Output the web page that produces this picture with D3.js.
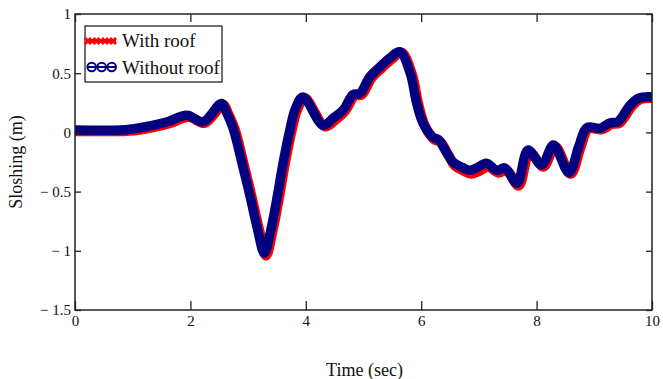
<!DOCTYPE html>
<html>
<head>
<meta charset="utf-8">
<script src="https://cdn.jsdelivr.net/npm/d3@7"></script>
<style>
  body { margin: 0; background: #fff; }
  svg { font-family: "Liberation Serif", "Times New Roman", serif; }
</style>
</head>
<body>
<svg id="chart" width="663" height="379"></svg>
<script>
// time (s) and sloshing (m)
var timeNoRoof = [0, 0.8, 1.0, 1.3, 1.6, 1.94, 2.22, 2.54, 2.62, 2.74, 2.89, 3.03, 3.16, 3.28, 3.40, 3.51, 3.61, 3.73, 3.82, 3.95, 4.3, 4.47, 4.65, 4.82, 4.94, 5.11, 5.29, 5.46, 5.63, 5.81, 5.92, 6.03, 6.2, 6.3, 6.44, 6.55, 6.73, 6.84, 6.96, 7.13, 7.31, 7.45, 7.66, 7.85, 8.09, 8.29, 8.56, 8.73, 8.87, 9.1, 9.27, 9.41, 9.62, 9.77, 10];
var slosNoRoof = [0.02, 0.02, 0.03, 0.055, 0.09, 0.145, 0.09, 0.245, 0.175, 0.035, -0.25, -0.53, -0.81, -1.02, -0.81, -0.53, -0.25, 0.035, 0.2, 0.30, 0.06, 0.12, 0.19, 0.32, 0.33, 0.47, 0.555, 0.63, 0.68, 0.50, 0.25, 0.08, -0.04, -0.06, -0.17, -0.25, -0.30, -0.32, -0.30, -0.26, -0.32, -0.30, -0.43, -0.15, -0.275, -0.107, -0.34, -0.12, 0.04, 0.035, 0.08, 0.09, 0.23, 0.29, 0.30];

var timeRoof = [0, 0.8, 1.03, 1.33, 1.63, 1.97, 2.25, 2.57, 2.65, 2.77, 2.92, 3.06, 3.19, 3.31, 3.43, 3.54, 3.64, 3.76, 3.85, 3.98, 4.33, 4.5, 4.68, 4.85, 4.97, 5.14, 5.32, 5.49, 5.66, 5.84, 5.95, 6.06, 6.23, 6.33, 6.47, 6.58, 6.76, 6.87, 6.99, 7.16, 7.34, 7.48, 7.69, 7.88, 8.12, 8.32, 8.59, 8.76, 8.9, 9.13, 9.3, 9.44, 9.65, 9.8, 10];
var slosRoof = [0.01, 0.01, 0.015, 0.04, 0.075, 0.13, 0.08, 0.235, 0.165, 0.025, -0.26, -0.54, -0.82, -1.04, -0.82, -0.54, -0.26, 0.025, 0.19, 0.29, 0.05, 0.1, 0.18, 0.31, 0.32, 0.46, 0.545, 0.62, 0.675, 0.49, 0.24, 0.06, -0.06, -0.08, -0.19, -0.28, -0.33, -0.35, -0.33, -0.29, -0.34, -0.32, -0.45, -0.17, -0.29, -0.12, -0.35, -0.13, 0.03, 0.025, 0.07, 0.08, 0.22, 0.28, 0.29];

var xTicks = [0, 2, 4, 6, 8, 10];
var yTicks = [-1.5, -1, -0.5, 0, 0.5, 1];
var yTickLabels = ["\u2212 1.5", "\u2212 1", "\u2212 0.5", "0", "0.5", "1"];
var seriesNames = ["With roof", "Without roof"];

var svg = d3.select("#chart");
var margin = { top: 14, right: 11, bottom: 69, left: 75 };
var width = 663 - margin.left - margin.right;
var height = 379 - margin.top - margin.bottom;

var g = svg.append("g").attr("transform", "translate(" + margin.left + "," + margin.top + ")");

var x = d3.scaleLinear().domain([0, 10]).range([0, width]);
var y = d3.scaleLinear().domain([-1.5, 1]).range([height, 0]);

g.append("clipPath").attr("id", "clip")
  .append("rect").attr("width", width).attr("height", height);

var line = d3.line()
  .x(d => x(d[0]))
  .y(d => y(d[1]))
  .curve(d3.curveCatmullRom.alpha(0.5));

var roof = timeRoof.map((t, i) => [t, slosRoof[i]]);
var noRoof = timeNoRoof.map((t, i) => [t, slosNoRoof[i]]);

var plot = g.append("g").attr("clip-path", "url(#clip)");
plot.append("path").datum(roof)
  .attr("fill", "none").attr("stroke", "#ff0000")
  .attr("stroke-width", 10).attr("stroke-linejoin", "round")
  .attr("d", line);
plot.append("path").datum(noRoof)
  .attr("fill", "none").attr("stroke", "#000080")
  .attr("stroke-width", 9.5).attr("stroke-linejoin", "round")
  .attr("d", line);

// axes (box with inward ticks)
function styleAxis(a) {
  a.select(".domain").remove();
  a.selectAll(".tick line").attr("stroke", "#222").attr("stroke-width", 1.3);
  a.selectAll(".tick text").attr("fill", "#111").attr("font-size", 15)
    .attr("font-family", "Liberation Serif, serif");
}

g.append("g").attr("transform", "translate(0," + height + ")")
  .call(d3.axisBottom(x).tickValues(xTicks).tickSize(-9).tickPadding(5).tickFormat(d3.format("d")))
  .call(styleAxis);
g.append("g")
  .call(d3.axisTop(x).tickValues(xTicks).tickSize(-8).tickFormat(""))
  .call(styleAxis);
g.append("g")
  .call(d3.axisLeft(y).tickValues(yTicks).tickSize(-6).tickPadding(4).tickFormat((d, i) => yTickLabels[i]))
  .call(styleAxis);
g.append("g").attr("transform", "translate(" + width + ",0)")
  .call(d3.axisRight(y).tickValues(yTicks).tickSize(-6).tickFormat(""))
  .call(styleAxis);

g.append("rect").attr("width", width).attr("height", height)
  .attr("fill", "none").attr("stroke", "#222").attr("stroke-width", 1.5);

// axis titles
svg.append("text")
  .attr("x", margin.left + width / 2 + 1).attr("y", 376)
  .attr("text-anchor", "middle").attr("font-size", 18).attr("fill", "#111")
  .text("Time (sec)");
svg.append("text")
  .attr("transform", "translate(22," + (margin.top + 148) + ") rotate(-90)")
  .attr("text-anchor", "middle").attr("font-size", 18).attr("fill", "#111")
  .text("Sloshing (m)");

// legend
var lg = svg.append("g").attr("transform", "translate(85,26)");
lg.append("rect").attr("width", 137).attr("height", 56)
  .attr("fill", "#fff").attr("stroke", "#111").attr("stroke-width", 1.2);

lg.append("line").attr("x1", 2).attr("x2", 31).attr("y1", 15).attr("y2", 15)
  .attr("stroke", "#ff0000").attr("stroke-width", 4);
lg.selectAll(".xm").data([3, 11.5, 20, 28]).join("path")
  .attr("transform", d => "translate(" + d + ",15) rotate(45)")
  .attr("d", d3.symbol(d3.symbolCross, 40))
  .attr("fill", "#ff0000");

lg.append("line").attr("x1", 2).attr("x2", 31).attr("y1", 41).attr("y2", 41)
  .attr("stroke", "#000080").attr("stroke-width", 2);
lg.selectAll(".om").data([6.7, 16.7, 26.7]).join("circle")
  .attr("cx", d => d).attr("cy", 41).attr("r", 4.3)
  .attr("fill", "none").attr("stroke", "#000080").attr("stroke-width", 2);

lg.selectAll(".lt").data(seriesNames).join("text")
  .attr("x", 37).attr("y", (d, i) => 21 + i * 27)
  .attr("font-size", 19).attr("fill", "#111")
  .text(d => d);
</script>
</body>
</html>
